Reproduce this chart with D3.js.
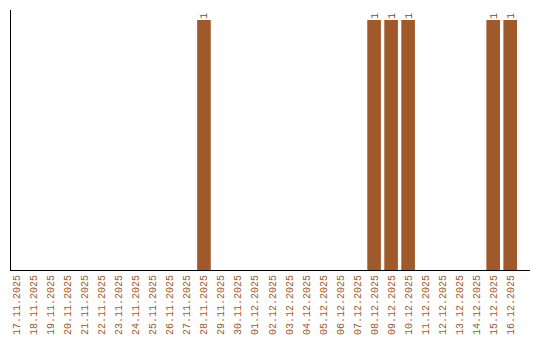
<!DOCTYPE html>
<html>
<head>
<meta charset="utf-8">
<script src="https://cdn.jsdelivr.net/npm/d3@7"></script>
<style>
  body { margin: 0; background: #fff; }
  text { font-family: "Liberation Mono", "DejaVu Sans Mono", monospace; font-size: 10px; }
</style>
</head>
<body>
<div id="chart-container"></div>
<script>
// dates shown on the x axis
const dates = [
  '17.11.2025', '18.11.2025', '19.11.2025', '20.11.2025', '21.11.2025',
  '22.11.2025', '23.11.2025', '24.11.2025', '25.11.2025', '26.11.2025',
  '27.11.2025', '28.11.2025', '29.11.2025', '30.11.2025', '01.12.2025',
  '02.12.2025', '03.12.2025', '04.12.2025', '05.12.2025', '06.12.2025',
  '07.12.2025', '08.12.2025', '09.12.2025', '10.12.2025', '11.12.2025',
  '12.12.2025', '13.12.2025', '14.12.2025', '15.12.2025', '16.12.2025'
];
const counts = [
  0, 0, 0, 0, 0, 0, 0, 0, 0, 0,
  0, 1, 0, 0, 0, 0, 0, 0, 0, 0,
  0, 1, 1, 1, 0, 0, 0, 0, 1, 1
];

const data = dates.map((d, i) => ({ date: d, value: counts[i] }));

const width = 540;
const height = 340;
const margin = { left: 10, right: 530, top: 10, bottom: 270 };

const svg = d3.select('#chart-container')
  .append('svg')
  .attr('width', width)
  .attr('height', height);

const xScale = d3.scaleBand()
  .domain(dates)
  .range([margin.left, 517])
  .paddingInner(0.2)
  .paddingOuter(0);

const yScale = d3.scaleLinear()
  .domain([0, d3.max(counts)])
  .range([margin.bottom, 20]);

// bars
svg.selectAll('.bar')
  .data(data.filter(d => d.value > 0))
  .enter()
  .append('rect')
  .attr('class', 'bar')
  .attr('x', d => xScale(d.date))
  .attr('y', d => yScale(d.value))
  .attr('width', xScale.bandwidth())
  .attr('height', d => margin.bottom - yScale(d.value))
  .attr('fill', '#a0592a');

// value labels above bars
svg.selectAll('.val')
  .data(data.filter(d => d.value > 0))
  .enter()
  .append('text')
  .attr('class', 'val')
  .attr('transform', d => `translate(${xScale(d.date) + xScale.bandwidth() / 2}, ${yScale(d.value) - 1}) rotate(-90)`)
  .attr('dy', '0.35em')
  .attr('fill', '#8b4513')
  .text(d => d.value);

// x labels
svg.selectAll('.xlab')
  .data(dates)
  .enter()
  .append('text')
  .attr('class', 'xlab')
  .attr('transform', d => `translate(${xScale(d) + xScale.bandwidth() / 2}, ${margin.bottom + 5}) rotate(-90)`)
  .attr('dy', '0.35em')
  .attr('text-anchor', 'end')
  .attr('fill', '#a0592a')
  .text(d => d);

// axis lines
svg.append('line')
  .attr('x1', margin.left + 0.5).attr('x2', margin.left + 0.5)
  .attr('y1', margin.top).attr('y2', margin.bottom)
  .attr('stroke', '#000');

svg.append('line')
  .attr('x1', margin.left).attr('x2', margin.right)
  .attr('y1', margin.bottom + 0.5).attr('y2', margin.bottom + 0.5)
  .attr('stroke', '#000');
</script>
</body>
</html>
